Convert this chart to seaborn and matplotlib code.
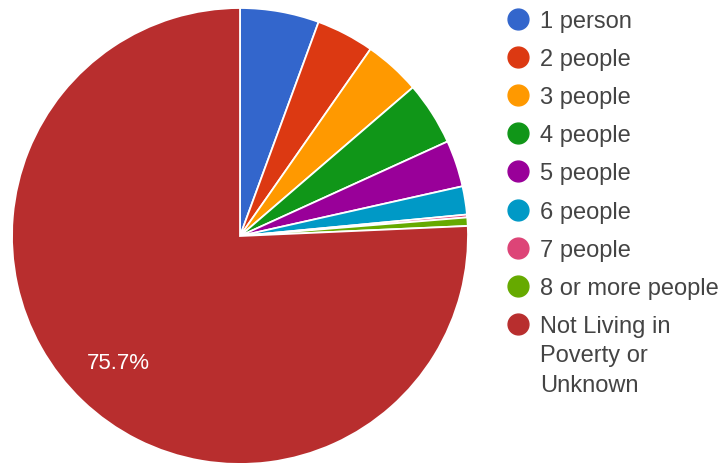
import matplotlib.pyplot as plt
import seaborn as sns
from matplotlib.lines import Line2D

labels = [
    "1 person",
    "2 people",
    "3 people",
    "4 people",
    "5 people",
    "6 people",
    "7 people",
    "8 or more people",
    "Not Living in\nPoverty or\nUnknown",
]
shares = [5.6, 4.1, 4.0, 4.5, 3.3, 2.0, 0.2, 0.6, 75.7]
colors = [
    "#3366cc", "#dc3912", "#ff9900", "#109618", "#990099",
    "#0099c6", "#dd4477", "#66aa00", "#b82e2e",
]

sns.set_theme(style="white")
plt.rcParams["font.family"] = ["Liberation Sans", "DejaVu Sans"]
palette = sns.color_palette(colors)

fig = plt.figure(figsize=(7.23, 4.64), dpi=100)
W, H = 723, 464
cx, cy, r = 240, 237, 228
ax = fig.add_axes([(cx - r) / W, (H - cy - r) / H, 2 * r / W, 2 * r / H])


def pct(p):
    return f"{p:.1f}%" if p > 10 else ""


wedges, _, autotexts = ax.pie(
    shares,
    colors=palette,
    startangle=90,
    counterclock=False,
    autopct=pct,
    pctdistance=0.77,
    wedgeprops=dict(edgecolor="white", linewidth=1.3),
    textprops=dict(color="white", fontsize=16),
    radius=1.0,
)
ax.set_xlim(-1, 1)
ax.set_ylim(-1, 1)
ax.set_aspect("equal")
ax.axis("off")

# legend drawn by hand so the marker sits on the first line of wrapped labels
row0, step = 20, 38.1
for i, (lab, c) in enumerate(zip(labels, palette)):
    y = 1 - (row0 + i * step) / H
    fig.add_artist(Line2D([518 / W], [y], marker="o", markersize=15,
                          color=c, linestyle="", transform=fig.transFigure))
    fig.text(540 / W, y + 9 / H, lab, ha="left", va="top", fontsize=17,
             color="#444444", linespacing=1.45)

fig.savefig("out.png", dpi=100)
